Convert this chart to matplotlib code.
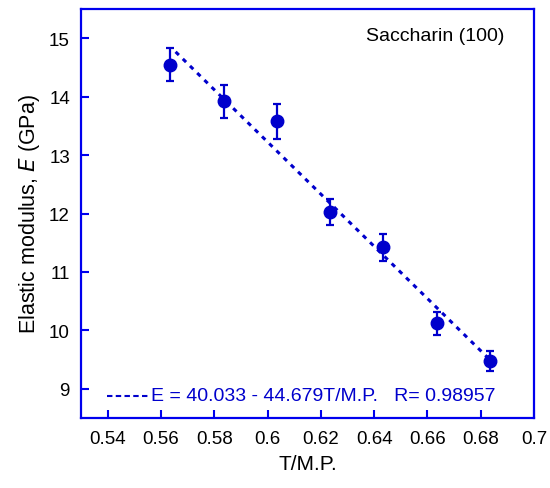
import matplotlib
matplotlib.use("Agg")
import matplotlib.pyplot as plt
import numpy as np

plt.rcParams['font.family'] = ['Liberation Sans', 'DejaVu Sans']

t_mp = [0.5635, 0.5835, 0.6035, 0.6235, 0.6435, 0.6635, 0.6835]
modulus = [14.55, 13.92, 13.58, 12.02, 11.42, 10.12, 9.47]
errors = [0.28, 0.28, 0.30, 0.22, 0.23, 0.20, 0.17]
fit_a, fit_b = 40.033, -44.679
r_value = 0.98957
x_ticks = [0.54, 0.56, 0.58, 0.6, 0.62, 0.64, 0.66, 0.68, 0.7]
x_tick_labels = ['0.54', '0.56', '0.58', '0.6', '0.62', '0.64', '0.66', '0.68', '0.7']
y_ticks = [9, 10, 11, 12, 13, 14, 15]

blue = '#0000CC'
frame_blue = '#0000EE'

fig = plt.figure(figsize=(5.5, 4.89), dpi=100)
ax = fig.add_axes([81/550, 1-419/489, (534-81)/550, (419-10)/489])

ax.errorbar(t_mp, modulus, yerr=errors, fmt='o', color=blue, ms=9,
            capsize=2.7, elinewidth=1.6, capthick=1.6, zorder=3)

xf = np.array([t_mp[0] + 0.002, t_mp[-1]])
ax.plot(xf, fit_a + fit_b * xf, ls=(0, (1.5, 1.8)), color=blue, lw=2.2, zorder=2)

ax.set_xlim(0.53, 0.70)
ax.set_ylim(8.5, 15.5)
ax.set_xticks(x_ticks)
ax.set_xticklabels(x_tick_labels)
ax.set_yticks(y_ticks)
ax.tick_params(direction='in', length=5.5, width=1.5, color=frame_blue,
               labelsize=13.5, top=False, right=False)
ax.tick_params(axis='x', pad=9)
ax.tick_params(axis='y', pad=8)
for s in ax.spines.values():
    s.set_color(frame_blue)
    s.set_linewidth(1.6)

ax.set_xlabel('T/M.P.', fontsize=15, labelpad=5)
ax.set_ylabel('Elastic modulus, $\\it{E}$ (GPa)', fontsize=15.5, labelpad=5)

ax.text(0.934, 0.935, 'Saccharin (100)', transform=ax.transAxes, ha='right',
        va='center', fontsize=14)

# legend-like line
ax.plot([0.5398, 0.5558], [8.88, 8.88], ls=(0, (2.6, 1.6)), color=blue, lw=1.5)
ax.text(0.5563, 8.88, 'E = 40.033 - 44.679T/M.P.   R= 0.98957', color=blue,
        fontsize=14, va='center', ha='left')

fig.savefig('out.png', dpi=100)
